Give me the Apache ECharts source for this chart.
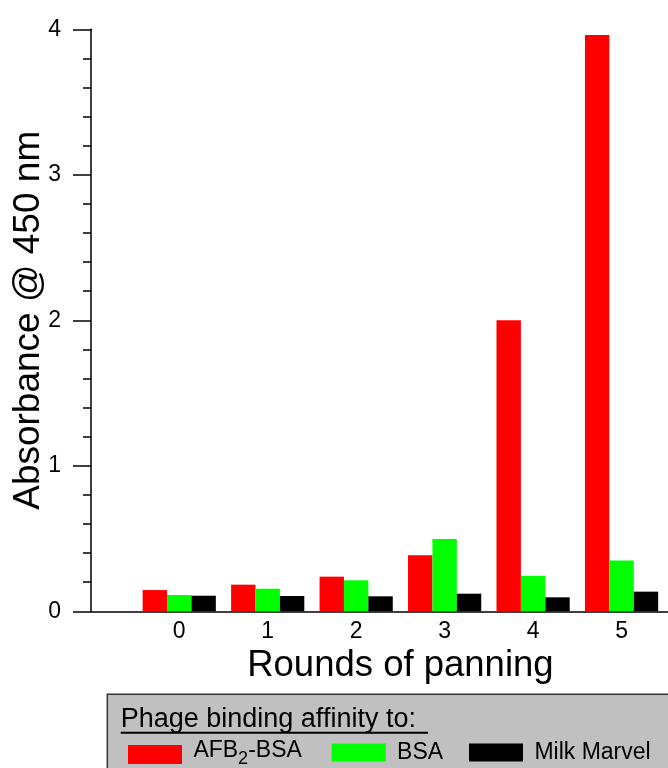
<!DOCTYPE html>
<html>
<head>
<meta charset="utf-8">
<script src="https://cdn.jsdelivr.net/npm/echarts@6/dist/echarts.min.js"></script>
<style>
html,body{margin:0;padding:0;background:#fff;}
#chart{width:668px;height:768px;}
</style>
</head>
<body>
<div id="chart"></div>
<script>
const categories = ['0', '1', '2', '3', '4', '5'];
const afbBsa = [0.146, 0.183, 0.238, 0.385, 2.0, 3.96];
const bsa = [0.112, 0.155, 0.213, 0.497, 0.245, 0.35];
const milkMarvel = [0.107, 0.105, 0.103, 0.121, 0.096, 0.135];
const seriesNames = ['AFB2-BSA', 'BSA', 'Milk Marvel'];

const FF = 'Liberation Sans, Arial, sans-serif';
const chart = echarts.init(document.getElementById('chart'));
const axisLineStyle = { color: '#000', width: 1.5 };

const option = {
  animation: false,
  backgroundColor: '#fff',
  textStyle: { fontFamily: FF, color: '#000' },
  grid: [
    { left: 91, right: 0, top: 29.3, bottom: 156.7, containLabel: false, outerBoundsMode: 'none' },
    { left: 135, right: 2.2, top: 29.3, bottom: 156.7, containLabel: false, outerBoundsMode: 'none' }
  ],
  xAxis: [
    {
      gridIndex: 0, type: 'value', min: 0, max: 1,
      axisLine: { show: true, lineStyle: axisLineStyle },
      axisTick: { show: false }, axisLabel: { show: false }, splitLine: { show: false }
    },
    {
      gridIndex: 1, type: 'category', data: categories,
      axisLine: { show: false }, axisTick: { show: false }, splitLine: { show: false },
      axisLabel: { fontSize: 23, margin: 9, color: '#000', fontFamily: FF },
      name: 'Rounds of panning', nameLocation: 'middle', nameGap: 36, nameMoveOverlap: false,
      nameTextStyle: { fontSize: 36.5, color: '#000', fontFamily: FF }
    }
  ],
  yAxis: [
    {
      gridIndex: 0, type: 'value', min: 0, max: 4, interval: 1,
      axisLine: { show: true, lineStyle: axisLineStyle },
      axisTick: { show: true, length: 18, lineStyle: axisLineStyle },
      minorTick: { show: true, splitNumber: 5, length: 8, lineStyle: axisLineStyle },
      splitLine: { show: false }, minorSplitLine: { show: false },
      axisLabel: { fontSize: 23, margin: 30, color: '#000', fontFamily: FF },
      name: 'Absorbance @ 450 nm', nameLocation: 'middle', nameGap: 44, nameMoveOverlap: false,
      nameTextStyle: { fontSize: 37, color: '#000', fontFamily: FF }
    },
    { gridIndex: 1, type: 'value', min: 0, max: 4, show: false }
  ],
  legend: [
    {
      data: [seriesNames[0]], left: 128, top: 739, padding: 0,
      itemWidth: 54, itemHeight: 19, icon: 'rect', selectedMode: false,
      formatter: function () { return '{m| AFB}{s|2}{m|-BSA}'; },
      textStyle: {
        color: '#000', fontFamily: FF, fontSize: 23,
        rich: {
          m: { fontSize: 23, fontFamily: FF, color: '#000', padding: [0, 0, 8, 0] },
          s: { fontSize: 18, fontFamily: FF, color: '#000', padding: [10, 0, 0, 0] }
        }
      }
    },
    {
      data: [seriesNames[1]], left: 331.7, top: 741, padding: 0,
      itemWidth: 54, itemHeight: 18, icon: 'rect', selectedMode: false,
      formatter: function (n) { return ' ' + n; },
      textStyle: { color: '#000', fontFamily: FF, fontSize: 23 }
    },
    {
      data: [seriesNames[2]], left: 469, top: 741, padding: 0,
      itemWidth: 54, itemHeight: 18, icon: 'rect', selectedMode: false,
      formatter: function (n) { return ' ' + n; },
      textStyle: { color: '#000', fontFamily: FF, fontSize: 23 }
    }
  ],
  graphic: [
    {
      type: 'rect', z: -10, silent: true,
      shape: { x: 107.3, y: 694.3, width: 620, height: 120 },
      style: { fill: '#c0c0c0', stroke: '#333', lineWidth: 1.5 }
    },
    {
      type: 'text', z: -5, silent: true, x: 120.7, y: 719.5,
      style: { text: 'Phage binding affinity to:', font: '27px ' + FF, fill: '#000', textVerticalAlign: 'middle', verticalAlign: 'middle' }
    },
    {
      type: 'line', z: -5, silent: true,
      shape: { x1: 120.7, y1: 732.7, x2: 428, y2: 732.7 },
      style: { stroke: '#000', lineWidth: 2 }
    }
  ],
  series: [
    { name: seriesNames[0], type: 'bar', xAxisIndex: 1, yAxisIndex: 1, data: afbBsa, barWidth: 24.4, barGap: '0%', itemStyle: { color: '#ff0000' } },
    { name: seriesNames[1], type: 'bar', xAxisIndex: 1, yAxisIndex: 1, data: bsa, barWidth: 24.4, barGap: '0%', itemStyle: { color: '#00ff00' } },
    { name: seriesNames[2], type: 'bar', xAxisIndex: 1, yAxisIndex: 1, data: milkMarvel, barWidth: 24.4, barGap: '0%', itemStyle: { color: '#000000' } }
  ]
};
chart.setOption(option);
</script>
</body>
</html>
